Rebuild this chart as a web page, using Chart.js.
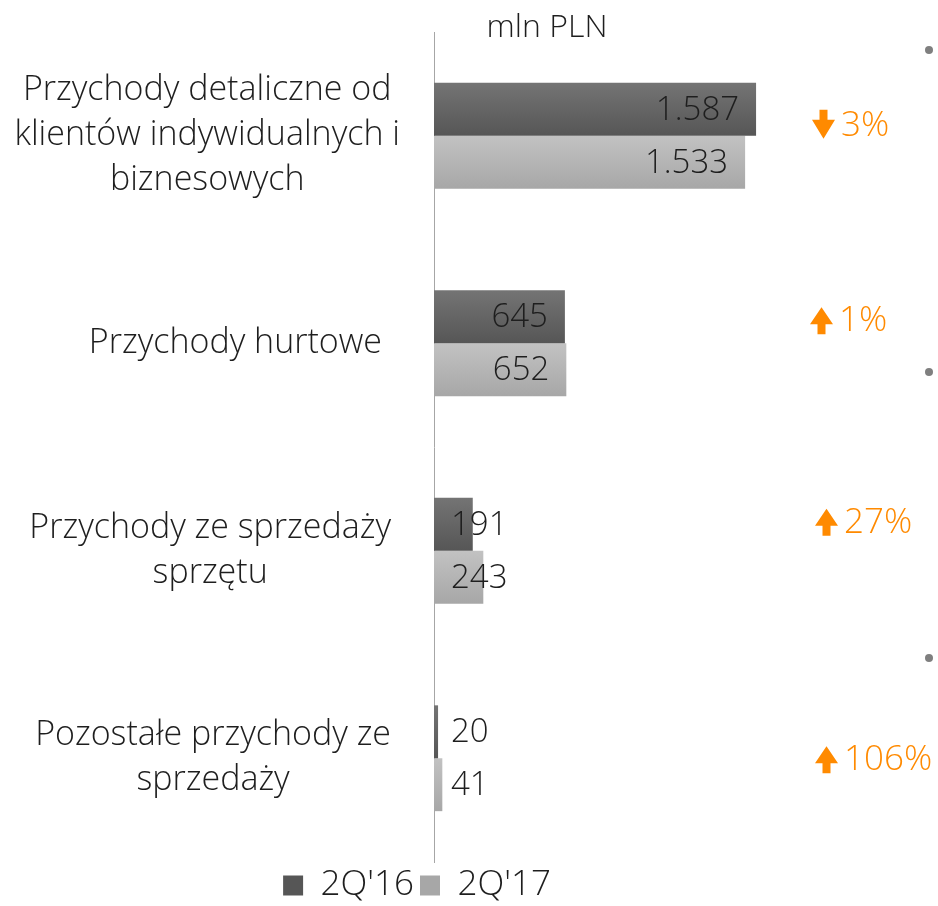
<!DOCTYPE html>
<html><head><meta charset="utf-8">
<script src="https://cdn.jsdelivr.net/npm/chart.js@4/dist/chart.umd.min.js"></script>
<style>html,body{margin:0;padding:0;background:#fff}#wrap{width:938px;height:906px;position:relative}</style>
</head><body><div id="wrap"><canvas id="c" width="938" height="906"></canvas></div>
<script>
const categories = [
  ['Przychody detaliczne od', 'klientów indywidualnych i', 'biznesowych'],
  ['Przychody hurtowe'],
  ['Przychody ze sprzedaży', 'sprzętu'],
  ['Pozostałe przychody ze', 'sprzedaży']
];
const seriesNames = ["2Q'16", "2Q'17"];
const values2Q16 = [1587, 645, 191, 20];
const values2Q17 = [1533, 652, 243, 41];
const changeLabels = ['3%', '1%', '27%', '106%'];
const changeDirections = ['down', 'up', 'up', 'up'];
const unitLabel = 'mln PLN';

const FONT = "'Open Sans', 'Noto Sans', sans-serif";
const TEXT = '#1e1e1e';
const ORANGE = '#ff8a00';
const CAT_PCT = 0.51;

function fmt(v) {
  return String(v).replace(/\B(?=(\d{3})+(?!\d))/g, '.');
}

function barFill(idx) {
  const flat = idx === 0 ? '#646464' : '#b4b4b4';
  const stops = idx === 0 ? ['#747474', '#565656'] : ['#c2c2c2', '#a7a7a7'];
  return (ctx) => {
    const chart = ctx.chart;
    const area = chart.chartArea;
    if (!area || ctx.dataIndex === undefined || !chart.scales.y) return flat;
    const ys = chart.scales.y;
    const band = (area.bottom - area.top) / categories.length;
    const th = band * CAT_PCT / 2;
    const c = ys.getPixelForValue(ctx.dataIndex);
    const top = idx === 0 ? c - th : c;
    const g = chart.ctx.createLinearGradient(0, top, 0, top + th);
    g.addColorStop(0, stops[0]);
    g.addColorStop(1, stops[1]);
    return g;
  };
}

const annotationLayout = { xs: [812, 810, 815, 815], dy: [-10, -22, -28, 2] };
const labelRight = [400, 382, 391, 391];

const extras = {
  id: 'extras',
  afterDraw(chart) {
    const ctx = chart.ctx;
    const ys = chart.scales.y;
    ctx.save();
    // unit title
    ctx.fillStyle = TEXT;
    ctx.font = `300 32px ${FONT}`;
    ctx.textAlign = 'center';
    ctx.textBaseline = 'middle';
    ctx.fillText(unitLabel, 547, 28);

    // category labels (block right-aligned, lines centred)
    ctx.font = `300 34px ${FONT}`;
    const lh = 45;
    categories.forEach((lines, i) => {
      const c = ys.getPixelForValue(i);
      const maxW = Math.max(...lines.map(l => ctx.measureText(l).width));
      const cx = labelRight[i] - maxW / 2;
      const y0 = c - (lines.length - 1) * lh / 2;
      lines.forEach((l, k) => ctx.fillText(l, cx, y0 + k * lh));
    });

    // data labels
    ctx.font = `300 33px ${FONT}`;
    chart.data.datasets.forEach((ds, di) => {
      const meta = chart.getDatasetMeta(di);
      meta.data.forEach((bar, j) => {
        const t = fmt(ds.data[j]);
        const w = ctx.measureText(t).width;
        const bw = bar.x - bar.base;
        ctx.fillStyle = TEXT;
        if (bw > w + 40) {
          ctx.textAlign = 'right';
          ctx.fillText(t, bar.x - 17, bar.y + 1);
        } else {
          ctx.textAlign = 'left';
          ctx.fillText(t, bar.base + 17, bar.y + 1);
        }
      });
    });

    // change annotations
    ctx.font = `300 35px ${FONT}`;
    ctx.textAlign = 'left';
    changeLabels.forEach((t, i) => {
      const y = ys.getPixelForValue(i) + annotationLayout.dy[i];
      const x = annotationLayout.xs[i];
      ctx.fillStyle = ORANGE;
      ctx.beginPath();
      if (changeDirections[i] === 'up') {
        ctx.moveTo(x + 11.5, y - 14);
        ctx.lineTo(x + 23, y + 3);
        ctx.lineTo(x + 15.5, y + 3);
        ctx.lineTo(x + 15.5, y + 13);
        ctx.lineTo(x + 7.5, y + 13);
        ctx.lineTo(x + 7.5, y + 3);
        ctx.lineTo(x, y + 3);
      } else {
        ctx.moveTo(x + 7.5, y - 16);
        ctx.lineTo(x + 15.5, y - 16);
        ctx.lineTo(x + 15.5, y - 6);
        ctx.lineTo(x + 23, y - 6);
        ctx.lineTo(x + 11.5, y + 13);
        ctx.lineTo(x, y - 6);
        ctx.lineTo(x + 7.5, y - 6);
      }
      ctx.closePath();
      ctx.fill();
      ctx.fillText(t, x + 29, y);
    });

    // decorative bullets
    ctx.fillStyle = '#7f7f7f';
    [[929, 50], [929, 372], [929, 658]].forEach(([bx, by]) => {
      ctx.beginPath();
      ctx.arc(bx, by, 4, 0, Math.PI * 2);
      ctx.fill();
    });
    ctx.restore();
  }
};

new Chart(document.getElementById('c'), {
  type: 'bar',
  data: {
    labels: categories.map(c => c.join(' ')),
    datasets: [
      { label: seriesNames[0], data: values2Q16, backgroundColor: barFill(0), borderWidth: 0 },
      { label: seriesNames[1], data: values2Q17, backgroundColor: barFill(1), borderWidth: 0 }
    ]
  },
  options: {
    indexAxis: 'y',
    responsive: false,
    animation: false,
    events: [],
    categoryPercentage: CAT_PCT,
    barPercentage: 1,
    layout: { padding: { top: 32, left: 0, right: 104, bottom: 0 } },
    scales: {
      x: { display: false, min: 0, max: 1971 },
      y: {
        ticks: { display: false },
        grid: { display: false },
        border: { display: true, color: '#a6a6a6', width: 1 },
        afterFit(s) { s.width = 434; }
      }
    },
    plugins: {
      tooltip: { enabled: false },
      legend: {
        position: 'bottom',
        maxHeight: 44,
        labels: {
          boxWidth: 20, boxHeight: 20, padding: 6,
          color: TEXT,
          font: { family: FONT, size: 35, weight: 300 }
        }
      }
    }
  },
  plugins: [extras]
});
</script>
</body></html>
